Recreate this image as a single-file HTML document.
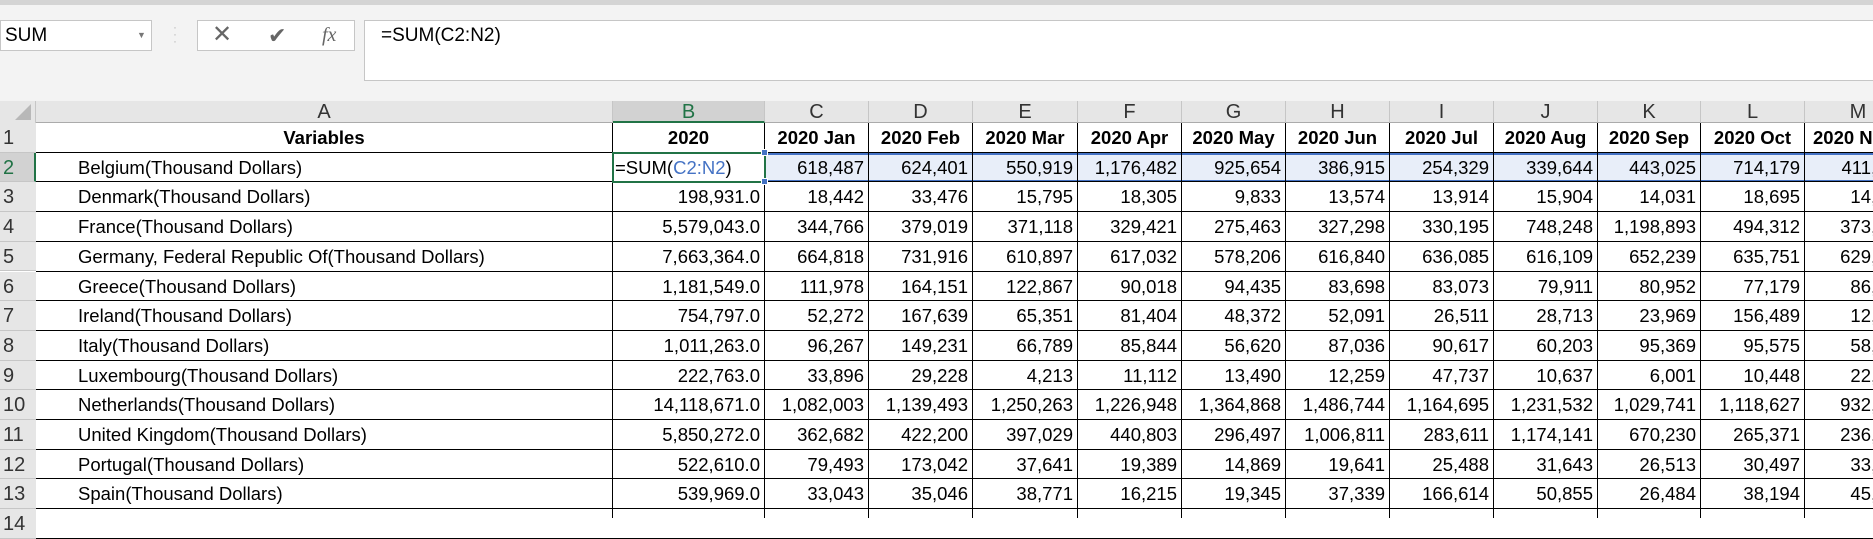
<!DOCTYPE html>
<html><head><meta charset="utf-8">
<style>
html,body{margin:0;padding:0;width:1873px;height:518px;overflow:hidden;background:#fff;font-family:"Liberation Sans",Arial,sans-serif;}
.a{position:absolute;box-sizing:border-box;}
.cell{position:absolute;box-sizing:border-box;font-size:18.5px;color:#000;white-space:nowrap;overflow:hidden;line-height:30px;padding:0 4px;}
.hdr{position:absolute;box-sizing:border-box;background:#e6e6e6;color:#333;font-size:20px;text-align:center;line-height:23px;border-right:1px solid #c6c6c6;}
.rn{position:absolute;box-sizing:border-box;background:#e6e6e6;color:#333;font-size:20px;padding-left:3px;line-height:30px;border-bottom:1px solid #c6c6c6;width:36px;}
</style></head><body>
<div class="a" style="left:0;top:0;width:1873px;height:5px;background:#d4d4d4"></div>
<div class="a" style="left:0;top:5px;width:1873px;height:96px;background:#f3f3f3"></div>
<div class="a" style="left:0;top:20px;width:152px;height:31px;background:#fff;border:1px solid #c6c6c6;font-size:19px;line-height:29px;padding-left:4px">SUM<span style="position:absolute;left:136px;top:0;font-size:9px;color:#777">▼</span></div>
<div class="a" style="left:173px;top:24px;width:4px;height:22px;color:#bbb;font-size:12px;line-height:7px">·<br>·<br>·</div>
<div class="a" style="left:197px;top:20px;width:158px;height:31px;background:#fff;border:1px solid #c6c6c6"></div>
<div class="a" style="left:212px;top:20px;font-size:24px;color:#666;line-height:30px">✕</div>
<div class="a" style="left:268px;top:20px;font-size:22px;color:#666;line-height:31px">✔</div>
<div class="a" style="left:322px;top:20px;font-size:20px;color:#666;font-style:italic;font-family:'Liberation Serif',serif;line-height:30px">fx</div>
<div class="a" style="left:364px;top:20px;width:1520px;height:61px;background:#fff;border:1px solid #c6c6c6;font-size:19px;line-height:30px;padding-left:16px">=SUM(C2:N2)</div>
<div id="grid"></div>
<script>
const names=["Belgium(Thousand Dollars)","Denmark(Thousand Dollars)","France(Thousand Dollars)","Germany, Federal Republic Of(Thousand Dollars)","Greece(Thousand Dollars)","Ireland(Thousand Dollars)","Italy(Thousand Dollars)","Luxembourg(Thousand Dollars)","Netherlands(Thousand Dollars)","United Kingdom(Thousand Dollars)","Portugal(Thousand Dollars)","Spain(Thousand Dollars)"];
const totals=["=SUM(C2:N2)","198,931.0","5,579,043.0","7,663,364.0","1,181,549.0","754,797.0","1,011,263.0","222,763.0","14,118,671.0","5,850,272.0","522,610.0","539,969.0"];
const months=["2020 Jan","2020 Feb","2020 Mar","2020 Apr","2020 May","2020 Jun","2020 Jul","2020 Aug","2020 Sep","2020 Oct","2020 Nov"];
const vals=[
["618,487","624,401","550,919","1,176,482","925,654","386,915","254,329","339,644","443,025","714,179","411,200"],
["18,442","33,476","15,795","18,305","9,833","13,574","13,914","15,904","14,031","18,695","14,100"],
["344,766","379,019","371,118","329,421","275,463","327,298","330,195","748,248","1,198,893","494,312","373,500"],
["664,818","731,916","610,897","617,032","578,206","616,840","636,085","616,109","652,239","635,751","629,400"],
["111,978","164,151","122,867","90,018","94,435","83,698","83,073","79,911","80,952","77,179","86,300"],
["52,272","167,639","65,351","81,404","48,372","52,091","26,511","28,713","23,969","156,489","12,600"],
["96,267","149,231","66,789","85,844","56,620","87,036","90,617","60,203","95,369","95,575","58,400"],
["33,896","29,228","4,213","11,112","13,490","12,259","47,737","10,637","6,001","10,448","22,100"],
["1,082,003","1,139,493","1,250,263","1,226,948","1,364,868","1,486,744","1,164,695","1,231,532","1,029,741","1,118,627","932,500"],
["362,682","422,200","397,029","440,803","296,497","1,006,811","283,611","1,174,141","670,230","265,371","236,900"],
["79,493","173,042","37,641","19,389","14,869","19,641","25,488","31,643","26,513","30,497","33,200"],
["33,043","35,046","38,771","16,215","19,345","37,339","166,614","50,855","26,484","38,194","45,300"]];
const letters=["A","B","C","D","E","F","G","H","I","J","K","L","M"];
const colX=[36,613,765,869,973,1078,1182,1286,1390,1494,1598,1701,1805,1912];
const T=123,RH=29.7;
const g=document.getElementById('grid');
function mk(cls,st,txt){const d=document.createElement('div');d.className=cls;Object.assign(d.style,st);if(txt!==undefined)d.textContent=txt;g.appendChild(d);return d;}
const corner=mk('a',{left:'0px',top:'101px',width:'36px',height:'22px',background:'#e6e6e6',borderRight:'1px solid #c6c6c6'});


corner.innerHTML='<div style="position:absolute;right:4px;bottom:3px;width:0;height:0;border-left:16px solid transparent;border-bottom:16px solid #b8b8b8"></div>';
for(let c=0;c<13;c++){
 const h=mk('hdr',{left:colX[c]+'px',top:'101px',width:(colX[c+1]-colX[c])+'px',height:'22px'},letters[c]);
 
 
 if(c===1){h.style.background='#d2d2d2';h.style.color='#217346';h.style.borderBottom='2px solid #217346';}
 else h.style.borderBottom='1px solid #ababab';
}
for(let r=0;r<14;r++){
 const n=mk('rn',{left:'0px',top:(T+r*RH)+'px',height:RH+'px'},String(r+1));
 
 
 if(r===1){n.style.background='#d2d2d2';n.style.color='#217346';n.style.borderRight='2px solid #217346';}
}
const sel=mk('a',{left:colX[2]+'px',top:(T+RH)+'px',width:(1873-colX[2])+'px',height:RH+'px',background:'#e8eef9',borderTop:'2px solid #4472c4',borderBottom:'2px solid #4472c4'});


for(let r=0;r<=13;r++){
 const l=mk('a',{left:'36px',top:(T+(r+1)*RH-1)+'px',width:'1840px',height:'1px',background:'#000'});
 
 
}
for(let c=1;c<13;c++){
 const l=mk('a',{left:(colX[c]-1)+'px',top:T+'px',width:'1px',height:(518-T)+'px',background:'#000'});
 
 
}
function cell(c,r,txt,align,bold){
 return mk('cell',{left:colX[c]+'px',top:(T+r*RH)+'px',width:(colX[c+1]-colX[c]-1)+'px',height:RH+'px',textAlign:align,fontWeight:bold?'bold':'normal'},txt);
}
let h=cell(0,0,'Variables','center',true);


h=cell(1,0,'2020','center',true);


months.forEach((m,i)=>{const d=cell(i+2,0,m,'center',true);
 
 
 if(i===10){d.style.textAlign='left';d.style.paddingLeft='8px';}
});
names.forEach((nm,i)=>{
 const r=i+1;
 const a=cell(0,r,nm,'left',false);a.style.paddingLeft='42px';
 
 
 const b=cell(1,r,totals[i],'right',false);
 
 
 if(i===0){b.style.textAlign='left';b.style.padding='0 2px';b.innerHTML='=SUM(<span style="color:#4472c4">C2:N2</span>)';}
 vals[i].forEach((v,j)=>{const d=cell(j+2,r,v,'right',false);
  
  
 });
});
const act=mk('a',{left:(colX[1]-1)+'px',top:(T+RH-1)+'px',width:(colX[2]-colX[1]+2)+'px',height:(RH+2)+'px',border:'2.5px solid #217346'});


const hd=mk('a',{left:(colX[2]-4)+'px',top:(T+2*RH-4)+'px',width:'7px',height:'7px',background:'#4472c4',border:'1px solid #fff'});


const hd2=mk('a',{left:(colX[2]-4)+'px',top:(T+RH-4)+'px',width:'7px',height:'7px',background:'#4472c4',border:'1px solid #fff'});


</script>
</body></html>
